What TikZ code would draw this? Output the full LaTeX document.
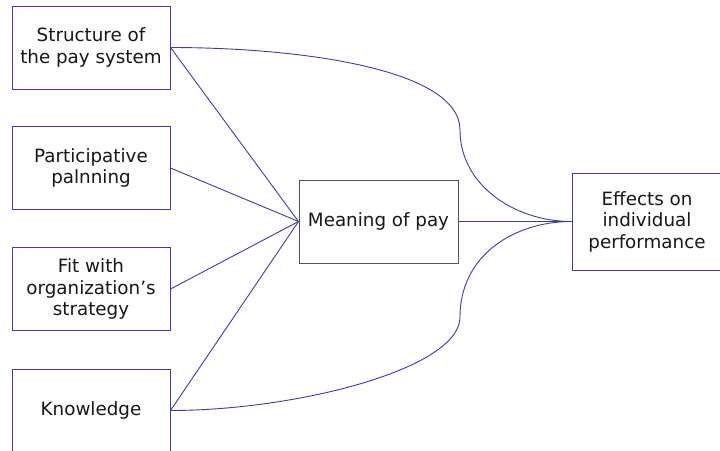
\documentclass[tikz,border=0pt]{standalone}
\usepackage{fontspec}
\setmainfont{DejaVu Sans}
\definecolor{linkblue}{RGB}{60,60,170}
\definecolor{framegrey}{RGB}{85,85,85}
\definecolor{inkdark}{RGB}{24,24,24}
\begin{document}
\begin{tikzpicture}[x=1pt,y=-1pt,
  factor/.style={draw=linkblue, line width=1pt, fill=white, text=inkdark,
    minimum width=158pt, minimum height=83pt, align=center, inner sep=0pt,
    font=\fontsize{18.3}{21.5}\selectfont},
  hub/.style={factor, draw=framegrey, minimum width=159pt},
  outcome/.style={factor, minimum width=150pt, minimum height=97pt},
  link/.style={draw=linkblue, line width=0.9pt}]
\useasboundingbox (0,0) rectangle (720,450);
\begin{scope}
\clip (0,0) rectangle (720,450);
% input factors
\node[factor] (s1) at (91,47.5) {Structure of\\the pay system};
\node[factor] (s2) at (91,168) {Participative\\palnning};
\node[factor] (s3) at (91,289) {Fit with\\organization’s\\strategy};
\node[factor] (s4) at (91,410.5) {Knowledge};
% mediator and outcome
\node[hub] (m) at (378.5,221.5) {Meaning of pay};
\node[outcome] (e) at (647,221.5) {Effects on\\individual\\performance};
% turning points of the two long curves
\coordinate (u) at (460,130);
\coordinate (d) at (460,317);
% straight links
\draw[link] (s1.east) -- (m.west);
\draw[link] (s2.east) -- (m.west);
\draw[link] (s3.east) -- (m.west);
\draw[link] (s4.east) -- (m.west);
\draw[link] (m.east) -- (e.west);
% direct curved links to the outcome
\draw[link] (s1.east) .. controls +(125,0) and +(0,-62) .. (u)
  .. controls +(0,55) and +(-57,0) .. (e.west);
\draw[link] (s4.east) .. controls +(125,0) and +(0,52) .. (d)
  .. controls +(0,-62) and +(-57,0) .. (e.west);
\end{scope}
\end{tikzpicture}
\end{document}
